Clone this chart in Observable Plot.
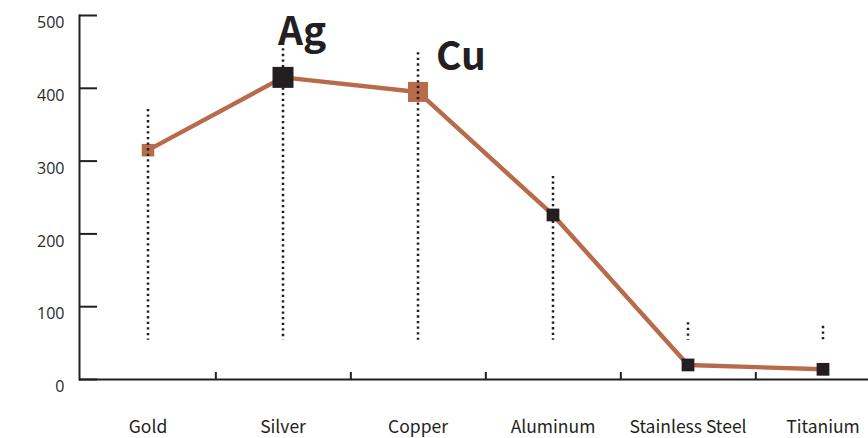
<!DOCTYPE html>
<html><head><meta charset="utf-8">
<script src="https://cdn.jsdelivr.net/npm/d3@7"></script>
<script src="https://cdn.jsdelivr.net/npm/@observablehq/plot@0.6"></script>
<style>html,body{margin:0;padding:0;background:#fff;overflow:hidden;}</style>
</head><body><div id="chart"></div>
<script>
const metals = ["Gold", "Silver", "Copper", "Aluminum", "Stainless Steel", "Titanium"];
const conductivity = [315, 415, 395, 226, 20, 14];
const rangeLow = [54, 54, 54, 54, 54, 54];
const rangeHigh = [371, 462, 449, 279, 78, 73];
const yTicks = [0, 100, 200, 300, 400, 500];
const symbolLabels = ["Ag", "Cu"];
const symbolMetals = ["Silver", "Copper"];
const highlighted = ["Silver", "Copper"];
const copperTone = ["Gold", "Copper"];

const BROWN = "#b86b4b";
const INK = "#231f20";
const data = metals.map((m, i) => ({metal: m, value: conductivity[i], low: rangeLow[i], high: rangeHigh[i]}));
const annot = symbolLabels.map((t, i) => ({label: t, metal: symbolMetals[i], value: conductivity[metals.indexOf(symbolMetals[i])]}));

const W = 868, H = 438, ML = 79, MT = 15, MB = 59;
const x0 = 78, x1 = 892;
const step = (x1 - x0) / metals.length;

const plot = Plot.plot({
  width: W, height: H,
  marginLeft: ML, marginRight: 0, marginTop: MT, marginBottom: MB,
  style: {background: "#fff", overflow: "visible"},
  x: {type: "band", domain: metals, range: [x0, x1], padding: 0, label: null},
  y: {domain: [0, 500], label: null},
  marks: [
    Plot.line(data, {x: "metal", y: "value", stroke: BROWN, strokeWidth: 4.4}),
    Plot.dot(data.filter(d => !highlighted.includes(d.metal) && copperTone.includes(d.metal)), {x: "metal", y: "value", symbol: "square", r: 7.05, fill: BROWN}),
    Plot.dot(data.filter(d => !highlighted.includes(d.metal) && !copperTone.includes(d.metal)), {x: "metal", y: "value", symbol: "square", r: 7.2, fill: INK}),
    Plot.dot(data.filter(d => highlighted.includes(d.metal) && copperTone.includes(d.metal)), {x: "metal", y: "value", symbol: "square", r: 11.3, fill: BROWN}),
    Plot.dot(data.filter(d => highlighted.includes(d.metal) && !copperTone.includes(d.metal)), {x: "metal", y: "value", symbol: "square", r: 11.85, fill: INK}),
    Plot.ruleX(data, {x: "metal", y1: "high", y2: "low", stroke: INK, strokeWidth: 2.5, strokeDasharray: "2.3 3.3"}),
    Plot.frame({anchor: "left", stroke: INK, strokeWidth: 2}),
    Plot.ruleY([0], {stroke: INK, strokeWidth: 2}),
    Plot.axisY({ticks: yTicks, tickSize: 18, dx: 18, text: null, label: null, stroke: INK, strokeWidth: 2}),
    Plot.axisY({ticks: yTicks, tickSize: 0, tickPadding: 15, dy: 7.5, fontSize: 16, fontFamily: "Open Sans", fill: "#2a2a2a", label: null}),
    Plot.axisX({tickSize: 7, dy: -7, dx: step / 2, text: null, label: null, stroke: INK, strokeWidth: 2}),
    Plot.axisX({tickSize: 0, tickPadding: 41, fontSize: 17.5, fontFamily: "Noto Sans CJK JP", fill: INK, label: null}),
    Plot.text(annot.filter(d => d.label === "Ag"), {x: "metal", y: "value", text: "label", textAnchor: "start", lineAnchor: "bottom", dx: -5, dy: -32, fontSize: 39, fontWeight: "bold", fontFamily: "Noto Sans CJK JP", fill: INK}),
    Plot.text(annot.filter(d => d.label === "Cu"), {x: "metal", y: "value", text: "label", textAnchor: "start", lineAnchor: "bottom", dx: 18, dy: -22, fontSize: 39, fontWeight: "bold", fontFamily: "Noto Sans CJK JP", fill: INK})
  ]
});
document.getElementById("chart").appendChild(plot);
</script>
</body></html>
